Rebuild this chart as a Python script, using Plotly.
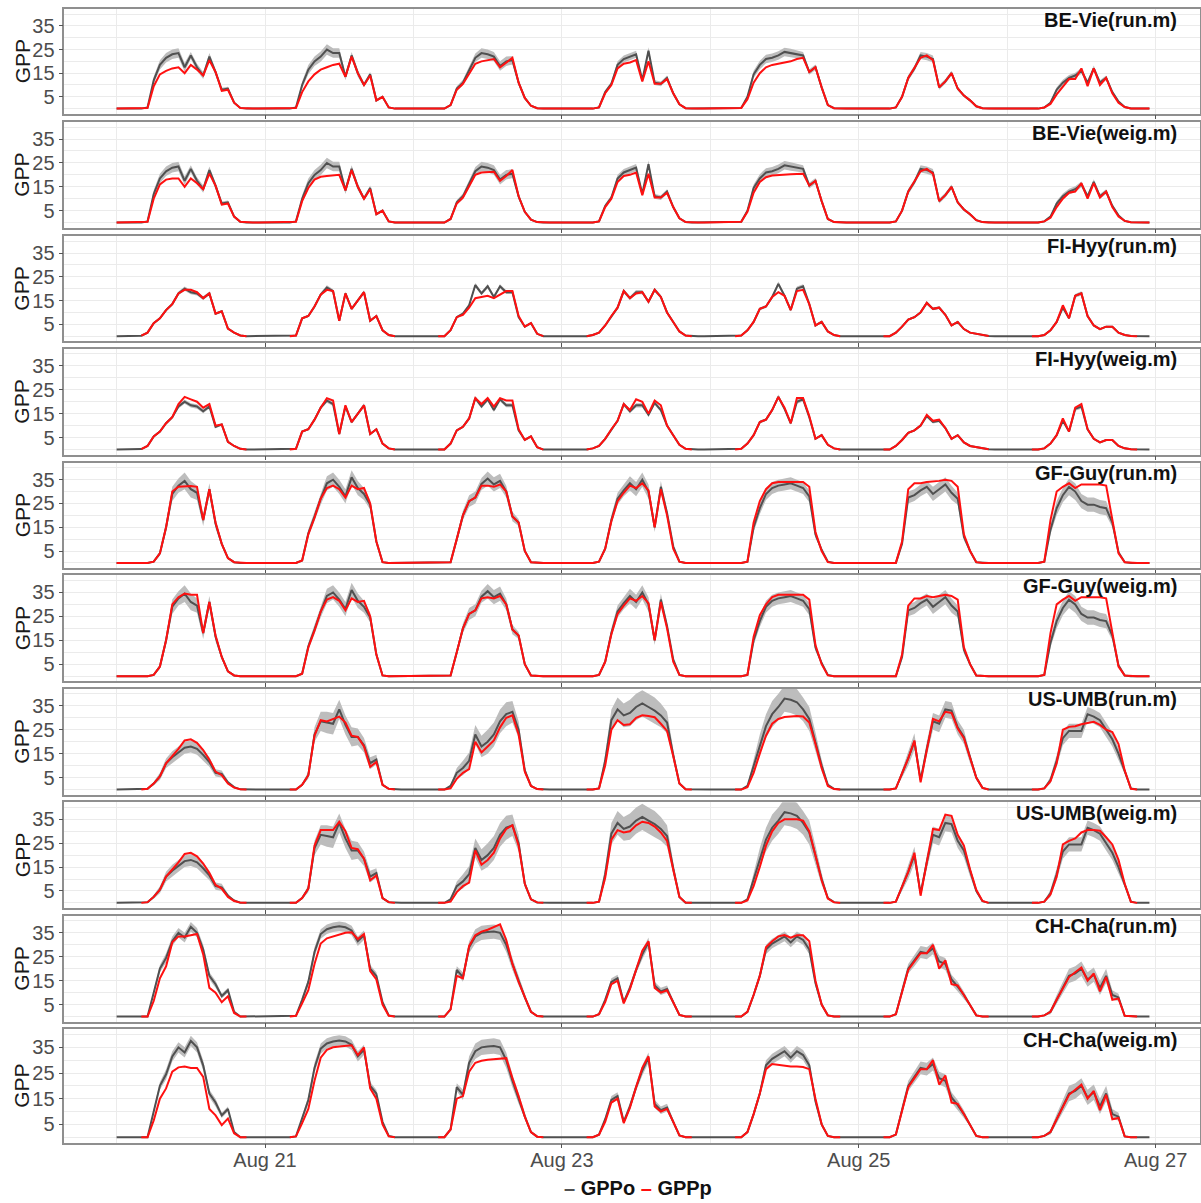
import plotly.graph_objects as go
from datetime import datetime, timedelta

# ---------------- data ----------------
DAYS = ["2013-08-20", "2013-08-21", "2013-08-22", "2013-08-23",
        "2013-08-24", "2013-08-25", "2013-08-26"]
FIRST_HOUR = 4          # daytime arrays hold hours 04:00 ... 21:00 (18 values)
SITES = ["BE-Vie", "FI-Hyy", "GF-Guy", "US-UMB", "CH-Cha"]
METHODS = ["run.m", "weig.m"]
SERIES_NAMES = ["GPPo", "GPPp"]

# ---- BE-Vie ----
be_vie_obs = [
    [0, 0.5, 12, 18.5, 21.5, 23, 23.5, 17.5, 22.5, 17.5, 14, 22, 15.5, 8, 8.5, 2.5, 0.3, 0],
    [0, 0.5, 10, 16.5, 20, 22, 25, 23.5, 23.5, 13.5, 22.5, 15, 10, 14.5, 3.5, 5, 0.5, 0],
    [0, 0, 1.5, 8.5, 11, 16, 21.5, 23.5, 23, 22, 18, 20, 20.5, 11, 4.5, 1.2, 0.2, 0],
    [0, 0, 0.5, 7, 10.5, 18.5, 21, 22, 23, 12, 24.5, 11, 10.5, 13, 6.5, 1.8, 0.2, 0],
    [0, 0.3, 5, 14.5, 18.5, 21, 21.5, 22.5, 24, 23.5, 23, 22.5, 15.5, 17.5, 9, 1.5, 0.2, 0],
    [0, 0, 0.5, 5, 13, 17, 22.5, 22, 21, 9, 11.5, 15, 8.5, 5.5, 3.5, 1, 0.2, 0],
    [0, 0, 0.5, 2.5, 8, 11, 13, 14, 16, 11, 17, 11, 13, 7, 3, 0.7, 0.1, 0],
]
be_vie_sd = [
    [0, 0.2, 1.5, 2, 2, 2, 2, 1.8, 1.5, 1.5, 1.5, 1.5, 1.2, 0.8, 0.8, 0.4, 0.1, 0],
    [0, 0.2, 1.5, 2, 2, 2.2, 2.2, 2, 2, 1.5, 1.5, 1.5, 1, 1, 0.5, 0.5, 0.1, 0],
    [0, 0, 0.3, 1, 1.2, 1.5, 1.8, 2, 2, 2, 2, 2, 1.8, 1.2, 0.6, 0.3, 0.1, 0],
    [0, 0, 0.2, 0.8, 1, 1.5, 1.5, 1.5, 1.5, 1, 1.5, 1, 1, 1, 0.8, 0.3, 0.1, 0],
    [0, 0.1, 0.8, 1.5, 1.8, 1.8, 1.8, 1.8, 1.8, 1.8, 1.8, 1.5, 1.2, 1.2, 1, 0.3, 0.1, 0],
    [0, 0, 0.2, 0.8, 1.2, 1.2, 1.5, 1.5, 1.5, 1, 1, 1, 0.8, 0.6, 0.5, 0.2, 0.1, 0],
    [0, 0, 0.2, 0.5, 1, 1.2, 1.2, 1.2, 1.2, 1, 1.2, 1, 1, 0.8, 0.5, 0.2, 0.1, 0],
]
be_vie_run = [
    [0, 0.3, 9.5, 14.5, 16, 17, 17.5, 15, 18.5, 16.5, 14, 20.5, 15.5, 7.5, 8, 2.5, 0.3, 0],
    [0, 0.3, 7, 11.5, 14.5, 16.5, 17.5, 18.5, 19, 13.5, 22, 15, 10, 14, 3.5, 5, 0.5, 0],
    [0, 0, 1.5, 8, 10.5, 15, 19, 20, 20.5, 21, 17.5, 19.5, 21.5, 11, 4.5, 1.2, 0.2, 0],
    [0, 0, 0.5, 6.5, 10, 17, 19, 19.5, 20.5, 11.5, 20, 10.5, 10.5, 12.5, 6.5, 1.8, 0.2, 0],
    [0, 0.3, 4, 11, 15, 17.5, 18.5, 19, 19.5, 20, 21, 21.5, 15.5, 17.5, 9, 1.5, 0.2, 0],
    [0, 0, 0.5, 5, 13, 17, 21.5, 22.5, 20.5, 9, 11.5, 15, 8.5, 5.5, 3.5, 1, 0.2, 0],
    [0, 0, 0.5, 2, 6, 9.5, 12.5, 12.5, 17, 9.5, 17, 10, 13, 6.5, 2.5, 0.7, 0.1, 0],
]
be_vie_weig = [
    [0, 0.3, 10, 16, 18, 18.5, 18.5, 15, 18.5, 16.5, 14, 20.5, 15.5, 7.5, 8, 2.5, 0.3, 0],
    [0, 0.3, 9, 14.5, 18, 19.2, 19.5, 19.8, 20, 13.5, 22, 15, 10, 14, 3.5, 5, 0.5, 0],
    [0, 0, 1.5, 8, 10.5, 15, 20, 21, 21.3, 21.3, 17.5, 19.5, 22, 11, 4.5, 1.2, 0.2, 0],
    [0, 0, 0.5, 6.5, 10, 17, 19.5, 20, 21, 11.5, 20.5, 10.5, 10.5, 12.5, 6.5, 1.8, 0.2, 0],
    [0, 0.3, 4.5, 12.5, 17, 19, 19.7, 20, 20.2, 20.3, 20.4, 20.5, 15.5, 17.5, 9, 1.5, 0.2, 0],
    [0, 0, 0.5, 5, 13, 17, 21.5, 22.5, 20.5, 9, 11.5, 15, 8.5, 5.5, 3.5, 1, 0.2, 0],
    [0, 0, 0.5, 2, 6.5, 10, 12.5, 13, 16.5, 10, 16.5, 10.5, 13, 6.5, 2.5, 0.7, 0.1, 0],
]

# ---- FI-Hyy ----
fi_hyy_obs = [
    [0.2, 1.5, 5.5, 7.5, 11, 13.5, 18, 20, 18.5, 18, 16, 18, 9.5, 10.5, 3.2, 1.5, 0.3, 0],
    [0, 0.3, 7.5, 8.5, 12.5, 17.5, 20.5, 19, 6.5, 18, 11.5, 15, 18.5, 6.5, 8.5, 2.5, 0.5, 0],
    [0, 0, 2.5, 8, 9.5, 13, 21.5, 18, 21, 16.5, 21, 18.5, 18.5, 8, 4, 5.5, 1, 0],
    [0, 0.5, 1.5, 4.5, 8.5, 12, 19, 16, 18.5, 18.5, 14.5, 19.5, 16.5, 10, 6, 2, 0.3, 0],
    [0, 0.3, 2.5, 6, 11.5, 12.5, 16.5, 22, 17, 11, 20, 21, 13.5, 4.5, 6, 2, 0.5, 0],
    [0, 0, 1.5, 4, 7, 8, 10, 14, 11.5, 12, 9, 4.5, 6, 3, 1.5, 1, 0.4, 0.1],
    [0, 0, 0.5, 2.5, 6, 12, 7.5, 17, 18, 8.5, 4.5, 3, 4, 4, 1.5, 0.5, 0.1, 0],
]
fi_hyy_sd = [
    [0, 0.2, 0.4, 0.5, 0.6, 0.7, 0.8, 0.9, 0.9, 0.9, 0.8, 0.8, 0.6, 0.5, 0.3, 0.2, 0.1, 0],
    [0, 0.1, 0.4, 0.5, 0.6, 0.8, 0.9, 0.8, 0.5, 0.8, 0.6, 0.7, 0.8, 0.4, 0.4, 0.2, 0.1, 0],
    [0, 0, 0.2, 0.5, 0.6, 0.7, 0.9, 0.8, 0.9, 0.8, 0.9, 0.8, 0.8, 0.5, 0.3, 0.3, 0.1, 0],
    [0, 0.1, 0.2, 0.3, 0.5, 0.6, 0.9, 0.8, 0.9, 0.9, 0.7, 0.9, 0.8, 0.6, 0.4, 0.2, 0.1, 0],
    [0, 0.1, 0.2, 0.4, 0.6, 0.6, 0.8, 1, 0.8, 0.6, 0.9, 0.9, 0.7, 0.3, 0.4, 0.2, 0.1, 0],
    [0, 0, 0.1, 0.3, 0.4, 0.5, 0.6, 0.7, 0.6, 0.6, 0.5, 0.3, 0.4, 0.2, 0.1, 0.1, 0, 0],
    [0, 0, 0.1, 0.2, 0.4, 0.6, 0.4, 0.8, 0.9, 0.5, 0.3, 0.2, 0.3, 0.3, 0.1, 0, 0, 0],
]
fi_hyy_run = [
    [0.2, 1.5, 5.5, 7.5, 11, 13.5, 18, 19.5, 19.5, 18.5, 16, 18, 9.5, 10.5, 3.2, 1.5, 0.3, 0],
    [0, 0.3, 7.5, 8.5, 12.5, 17.5, 19.5, 19, 6.5, 18, 11.5, 15, 18.5, 6.5, 8.5, 2.5, 0.5, 0],
    [0, 0, 2.5, 8, 9, 12, 16, 16.5, 17, 16, 17.5, 19, 19, 8.5, 4, 5.5, 1, 0],
    [0, 0.5, 1.5, 4.5, 8.5, 12, 19, 16, 18, 18.5, 14.5, 19.5, 16.5, 10, 6, 2, 0.3, 0],
    [0, 0.3, 2.5, 6, 11.5, 12.5, 16.5, 18.5, 17, 11, 19, 19.5, 13.5, 4.5, 6, 2, 0.5, 0],
    [0, 0, 1.5, 4, 7, 8, 10, 14, 11.5, 12, 9, 4.5, 6, 3, 1.5, 1, 0.4, 0.1],
    [0, 0, 0.5, 2.5, 6, 13, 7.5, 17, 18, 8.5, 4.5, 3, 4, 4, 1.5, 0.5, 0.1, 0],
]
fi_hyy_weig = [
    [0.2, 1.5, 5.5, 7.5, 11, 13.5, 19, 22, 21, 20, 17.5, 19, 10, 10.5, 3.2, 1.5, 0.3, 0],
    [0, 0.3, 7.5, 8.5, 12.5, 17.5, 21.5, 20.5, 6.5, 18.5, 11.5, 15, 18.5, 6.5, 8.5, 2.5, 0.5, 0],
    [0, 0, 2.5, 8, 9.5, 13, 21.5, 19, 21.5, 18, 21.5, 20.5, 20.5, 8.5, 4, 5.5, 1, 0],
    [0, 0.5, 1.5, 4.5, 8.5, 12, 19, 16.5, 21, 20, 15, 20.5, 18.5, 10, 6, 2, 0.3, 0],
    [0, 0.3, 2.5, 6, 11.5, 12.5, 16.5, 22, 17.5, 11, 21.5, 21.5, 14, 4.5, 6, 2, 0.5, 0],
    [0, 0, 1.5, 4, 7, 8, 10, 14.5, 12, 12.5, 9, 4.5, 6, 3, 1.5, 1, 0.4, 0.1],
    [0, 0, 0.5, 2.5, 6, 13, 7.5, 17.5, 19, 8.5, 4.5, 3, 4, 4, 1.5, 0.5, 0.1, 0],
]

# ---- GF-Guy ----
gf_guy_obs = [
    [0, 0, 0.5, 4, 15, 29, 32.5, 34.5, 31, 29.5, 18, 31, 16.5, 8, 2, 0.3, 0, 0],
    [0, 0, 1, 12.5, 19.5, 27, 33.5, 35, 32, 28, 36, 31.5, 29, 24.5, 9, 0.3, 0, 0],
    [0, 0, 0.3, 10, 20, 26, 27.5, 33.2, 35.5, 33, 34.5, 30, 19.5, 17, 5, 0.3, 0, 0],
    [0, 0, 0.5, 6, 18, 27, 30.5, 33.5, 31, 35, 30, 15, 32, 21, 7, 0.5, 0, 0],
    [0, 0, 0.5, 15, 23, 29, 31.5, 32.5, 33, 33.5, 32.5, 31.5, 28, 12, 5.5, 0.5, 0, 0],
    [0, 0, 0, 8, 27.5, 28.5, 30.5, 32, 29, 31, 33, 29.5, 27, 11, 5, 0.3, 0, 0],
    [0, 0, 0.5, 14, 23, 28.5, 32, 30, 26, 24.5, 24.5, 23.5, 23, 17, 4.5, 0.3, 0, 0],
]
gf_guy_sd = [
    [0, 0, 0.2, 1, 2, 3, 3, 3.5, 3.5, 3, 2.5, 2.5, 2, 1, 0.5, 0.1, 0, 0],
    [0, 0, 0.3, 1.5, 2, 2.5, 3, 3, 3, 3, 3, 3, 2.5, 2, 1, 0.1, 0, 0],
    [0, 0, 0.1, 1.5, 2, 2.5, 2.5, 2.5, 3, 3, 3, 2.5, 2, 1.5, 0.5, 0.1, 0, 0],
    [0, 0, 0.2, 1, 2, 2.5, 2.5, 3, 3, 3, 3, 2, 2.5, 1.5, 0.5, 0.1, 0, 0],
    [0, 0, 0.2, 2, 2.5, 2.5, 2.5, 2.5, 2.5, 2.5, 2.5, 2.5, 2.5, 1.5, 0.5, 0.1, 0, 0],
    [0, 0, 0, 1, 2.5, 2.5, 2.5, 2.5, 3, 3, 3, 3, 2.5, 1.5, 0.5, 0.1, 0, 0],
    [0, 0, 0.2, 2, 3, 3, 3.5, 3.5, 3, 3, 3, 3, 3, 2, 0.5, 0.1, 0, 0],
]
gf_guy_run = [
    [0, 0, 0.5, 4, 15, 30, 32, 32.3, 32.3, 32, 18, 31, 17, 8, 2, 0.3, 0, 0],
    [0, 0, 1, 12, 19, 27, 31.5, 32.5, 31, 27.5, 32.5, 31, 31.5, 25, 9, 0.3, 0, 0],
    [0, 0, 0.3, 10, 20, 26, 27.5, 32.5, 32.5, 32, 33, 30, 19.5, 17, 5, 0.3, 0, 0],
    [0, 0, 0.5, 6, 17.5, 26, 29.5, 32.5, 31.5, 33.5, 30.5, 15, 31, 20, 6, 0.5, 0, 0],
    [0, 0, 0.5, 17, 26, 31, 33.5, 34, 34, 34, 34, 34, 32, 13, 5, 0.3, 0, 0],
    [0, 0, 0, 9, 31, 33.5, 33.5, 34, 34.2, 34.5, 35, 34.5, 32, 12, 5, 0.3, 0, 0],
    [0, 0, 0.5, 18, 30, 32, 33.5, 31.5, 33, 33, 33, 33, 32.5, 18, 4, 0.3, 0, 0],
]
gf_guy_weig = [
    [0, 0, 0.5, 4, 15, 30, 33, 34.5, 34, 34, 18, 31, 17, 8, 2, 0.3, 0, 0],
    [0, 0, 1, 12, 19, 27, 32, 33, 31.5, 27.5, 32.5, 31, 31.5, 25, 9, 0.3, 0, 0],
    [0, 0, 0.3, 10, 20, 26, 27.5, 32.5, 33, 32.5, 33.5, 30, 19.5, 17, 5, 0.3, 0, 0],
    [0, 0, 0.5, 6, 17.5, 26, 29.5, 32.5, 31.5, 33.5, 30.5, 15, 31, 20, 6, 0.5, 0, 0],
    [0, 0, 0.5, 16.5, 25.5, 30, 33, 34, 34, 34, 34, 34, 32, 13, 5, 0.3, 0, 0],
    [0, 0, 0, 9, 29.5, 32.5, 32.5, 33.5, 33, 33.5, 34, 33.5, 32, 12, 5, 0.3, 0, 0],
    [0, 0, 0.5, 18, 30, 32, 33.5, 31.5, 33, 33, 33, 33, 32.5, 18, 4, 0.3, 0, 0],
]

# ---- US-UMB ----
us_umb_obs = [
    [0, 0.3, 2.5, 5.5, 11, 13.5, 15.5, 17.5, 18, 17, 14.5, 11.5, 7, 6.5, 3, 1, 0.1, 0],
    [0, 0, 2, 6, 23, 28.5, 28, 27.5, 33.5, 27, 22, 22, 18.5, 11, 12.5, 2, 0.3, 0],
    [0, 0, 1.5, 7, 9, 12, 23, 18, 20, 23, 28.5, 31.5, 32.5, 25, 8, 1.5, 0.2, 0],
    [0, 0, 0.5, 12, 29, 33.5, 31, 32, 34.5, 36, 34.5, 33, 31, 28, 14.5, 2.5, 0.1, 0],
    [0, 0, 1.5, 10, 19, 26.5, 31.5, 34.5, 38, 37.5, 36.5, 33.5, 29.5, 20, 10, 2, 0.3, 0],
    [0, 0, 0.5, 6.5, 13, 20, 4, 17, 28.5, 27.5, 33.5, 33, 26, 22, 13, 5, 0.7, 0],
    [0, 0, 0.5, 4, 12, 21.5, 24.5, 24.5, 24.5, 31.5, 30.5, 29, 25, 21, 15, 8, 0.5, 0],
]
us_umb_sd = [
    [0, 0.1, 0.8, 1.5, 2, 2.5, 2.5, 2.5, 2.5, 2.5, 2.5, 2, 1.5, 1.5, 0.8, 0.3, 0, 0],
    [0, 0, 0.5, 1.5, 3, 4, 4.5, 4.5, 4, 4, 4, 3.5, 3, 2.5, 2, 0.5, 0.1, 0],
    [0, 0, 0.5, 2, 3, 3.5, 4, 4.5, 5, 5, 5, 5, 4.5, 3.5, 1.5, 0.3, 0, 0],
    [0, 0, 0.2, 3, 4.5, 5, 5, 5.5, 5.5, 5.5, 5.5, 5.5, 5, 4.5, 2.5, 0.5, 0, 0],
    [0, 0, 0.5, 3, 4, 5, 5.5, 5.5, 5.5, 5.5, 5.5, 5, 5, 4, 2.5, 0.5, 0.1, 0],
    [0, 0, 0.2, 1.5, 3, 3.5, 1, 3, 3.5, 3.5, 3.5, 3.5, 3, 3, 2, 1, 0.2, 0],
    [0, 0, 0.2, 1.5, 2.5, 3, 3, 3, 3, 3, 3, 3, 3, 3, 2.5, 1.5, 0.2, 0],
]
us_umb_run = [
    [0, 0.3, 2.5, 5.5, 11, 14, 17, 20.5, 21, 19.5, 16.5, 12.5, 7.5, 6, 2.5, 0.8, 0.1, 0],
    [0, 0, 2, 6, 22.5, 29, 28.5, 29.5, 30.5, 28, 22.5, 22, 18, 9.5, 11.5, 2, 0.3, 0],
    [0, 0, 0.5, 4.5, 7, 8.5, 20, 15.5, 18, 20.5, 26, 30, 31, 23, 7.5, 1.5, 0.2, 0],
    [0, 0, 0.5, 10, 25, 29, 27, 27.3, 30, 31, 30.7, 30.2, 27.5, 24.5, 14, 2.5, 0.1, 0],
    [0, 0, 1, 7, 15, 22.5, 27.5, 29.5, 30.3, 30.5, 30.7, 30.5, 28, 19, 9, 1.5, 0.2, 0],
    [0, 0, 0.5, 6.5, 13, 20.5, 3, 16.5, 29.5, 28.5, 32.5, 32, 25.5, 21.5, 13, 5, 0.7, 0],
    [0, 0, 0.5, 3.5, 11, 25, 26.2, 26.5, 27.3, 27.9, 28.3, 27, 25, 24, 19, 8, 0.3, 0],
]
us_umb_weig = [
    [0, 0.3, 2.5, 5.5, 11, 14, 17, 20.5, 21, 19.5, 16.5, 12.5, 7.5, 6, 2.5, 0.8, 0.1, 0],
    [0, 0, 2, 6, 24, 30.5, 30.5, 30.5, 34, 30, 23, 22.5, 18.5, 9.5, 11.5, 2, 0.3, 0],
    [0, 0, 0.5, 4.5, 7, 8.5, 22, 16, 18, 21, 27, 31, 32.5, 24, 8, 1.5, 0.2, 0],
    [0, 0, 0.5, 10.5, 26.5, 30.5, 29.5, 30, 32.5, 34, 33.5, 32, 29.5, 26, 14, 2.5, 0.1, 0],
    [0, 0, 1, 7, 15, 24, 30, 33.5, 35, 35, 35, 34.5, 30, 20, 9.5, 1.8, 0.2, 0],
    [0, 0, 0.5, 6.5, 13, 21, 3, 17, 31, 30.5, 37, 36.5, 28.5, 24, 14, 5.5, 0.8, 0],
    [0, 0, 0.5, 3.5, 11, 24.5, 26, 27, 29.5, 30.5, 30.5, 30.2, 27.5, 24.5, 18, 8, 0.4, 0],
]

# ---- CH-Cha ----
ch_cha_obs = [
    [0, 0, 10, 20, 24.5, 31.5, 35, 33, 37.5, 35, 28, 17, 13.5, 8.5, 11, 2, 0, 0],
    [0, 0.3, 7, 14.5, 27, 34.5, 36.5, 37.3, 37.7, 37.3, 36, 31.5, 34, 20, 17, 6, 0.5, 0],
    [0, 0, 3, 19.5, 16.5, 29, 33.5, 35, 35.3, 35.5, 35, 30, 22, 15, 8, 2, 0.2, 0],
    [0, 0, 1, 7, 14.5, 16, 6, 12, 19.5, 26, 31, 13, 10.5, 11.5, 6, 0.7, 0, 0],
    [0, 0, 2, 9, 17, 28, 30.5, 32, 33.5, 31, 33.5, 32, 28, 14, 5, 0.5, 0, 0],
    [0, 0, 1, 11, 20, 23.5, 27, 26.5, 28.5, 23, 22, 15.5, 12.5, 9, 5, 0.5, 0, 0],
    [0, 0, 0.5, 2, 7, 12, 17, 18, 20, 15.5, 17.5, 12, 17, 9, 8, 0.3, 0, 0],
]
ch_cha_sd = [
    [0, 0, 1, 1.5, 2, 2, 2, 2, 2, 2, 2, 1.5, 1.5, 1, 1, 0.3, 0, 0],
    [0, 0.1, 1, 1.5, 2, 2, 2, 2, 2, 2, 2, 2, 2, 1.5, 1.5, 0.5, 0.1, 0],
    [0, 0, 0.5, 1.5, 2, 2.5, 3, 3, 3, 3, 3, 3, 2.5, 2, 1, 0.3, 0, 0],
    [0, 0, 0.3, 1, 1.5, 1.5, 1, 1.5, 1.5, 2, 2, 1.5, 1.5, 1.5, 1, 0.2, 0, 0],
    [0, 0, 0.5, 1, 1.5, 2, 2, 2, 2, 2, 2, 2, 2, 1.5, 0.8, 0.2, 0, 0],
    [0, 0, 0.3, 1.5, 2, 2.5, 2.5, 2.5, 2.5, 2.5, 2.5, 2, 2, 1.5, 0.8, 0.2, 0, 0],
    [0, 0, 0.2, 1, 2, 2.5, 3, 3, 3, 3, 3, 3, 3, 2, 1.5, 0.2, 0, 0],
]
ch_cha_run = [
    [0, 0, 6.5, 16, 21, 31, 33.5, 33.5, 34, 34.5, 26, 12, 10, 6, 8.5, 1.5, 0, 0],
    [0, 0.3, 5.5, 11, 22, 30.5, 32.7, 33.5, 34.5, 35, 35.2, 32.4, 34.5, 19, 15.5, 5, 0.3, 0],
    [0, 0, 3, 17, 16, 29.5, 34, 35.5, 36.3, 37.3, 38.5, 32, 22, 14.5, 8, 2, 0.2, 0],
    [0, 0, 1, 6, 13.5, 15, 5.5, 11.5, 19.5, 27.5, 31.5, 12, 10, 11, 6, 0.7, 0, 0],
    [0, 0, 2, 9, 17, 29, 31.5, 33.5, 34.1, 33, 34, 34, 31.5, 15, 5, 0.5, 0, 0],
    [0, 0, 1, 10.5, 19.5, 23, 26.5, 26.5, 30, 20, 23.5, 13.5, 13, 9, 5, 0.5, 0, 0],
    [0, 0, 0.5, 2, 7, 11.5, 16.5, 18.5, 20.5, 15, 18, 10.5, 16.5, 7, 7.5, 0.3, 0, 0],
]
ch_cha_weig = [
    [0, 0, 6.5, 15, 19, 25.5, 27.2, 27.5, 27, 27, 23.5, 11, 8.5, 4.7, 7.3, 1.5, 0, 0],
    [0, 0.3, 5.5, 11, 22, 31, 34, 35, 35.3, 35.5, 35.8, 32, 35, 19, 15, 5, 0.3, 0],
    [0, 0, 3, 15, 16, 25.5, 29, 29.8, 30.2, 30.4, 30.5, 30.8, 23, 16, 8, 2, 0.2, 0],
    [0, 0, 1, 6, 13.5, 15, 5.5, 11.5, 19.5, 27, 31.5, 12, 10, 11, 6, 0.7, 0, 0],
    [0, 0, 2, 9, 17, 26.5, 28.5, 28.2, 28, 27.5, 27.5, 27.3, 26.5, 15, 5, 0.5, 0, 0],
    [0, 0, 1, 10.5, 19.5, 23, 26.5, 26.5, 30, 20.5, 24, 13.5, 13, 9, 5, 0.5, 0, 0],
    [0, 0, 0.5, 2, 7, 11.5, 16.5, 18.5, 20.5, 15, 18, 10.5, 16.5, 7, 7.5, 0.3, 0, 0],
]

# night-time value of the prediction series (None = not plotted at night)
PRED_NIGHT = {"BE-Vie": 0, "FI-Hyy": None, "GF-Guy": 0, "US-UMB": None, "CH-Cha": None}

OBS = {"BE-Vie": be_vie_obs, "FI-Hyy": fi_hyy_obs, "GF-Guy": gf_guy_obs,
       "US-UMB": us_umb_obs, "CH-Cha": ch_cha_obs}
SD = {"BE-Vie": be_vie_sd, "FI-Hyy": fi_hyy_sd, "GF-Guy": gf_guy_sd,
      "US-UMB": us_umb_sd, "CH-Cha": ch_cha_sd}
PRED = {("BE-Vie", "run.m"): be_vie_run, ("BE-Vie", "weig.m"): be_vie_weig,
        ("FI-Hyy", "run.m"): fi_hyy_run, ("FI-Hyy", "weig.m"): fi_hyy_weig,
        ("GF-Guy", "run.m"): gf_guy_run, ("GF-Guy", "weig.m"): gf_guy_weig,
        ("US-UMB", "run.m"): us_umb_run, ("US-UMB", "weig.m"): us_umb_weig,
        ("CH-Cha", "run.m"): ch_cha_run, ("CH-Cha", "weig.m"): ch_cha_weig}


def expand(day_lists, night_value):
    """Hourly series over the 7 days: daytime values from the arrays, night value elsewhere."""
    xs, ys = [], []
    for d, day in enumerate(DAYS):
        base = datetime.fromisoformat(day)
        for h in range(24):
            xs.append(base + timedelta(hours=h))
            k = h - FIRST_HOUR
            if 0 <= k < len(day_lists[d]):
                ys.append(day_lists[d][k])
            else:
                ys.append(night_value)
    return xs, ys


# ---------------- layout geometry (pixels of the 1201 x 1203 page) ----------------
W, H = 1201, 1203
PANEL_TOP = [9, 122, 236, 348.7, 462.7, 575.3, 688.7, 802.3, 915.7, 1029]
PANEL_BOT = [113.7, 227.7, 341.3, 454.7, 568, 681.3, 794.7, 908, 1021.7, 1142.7]
X_LEFT, X_RIGHT = 64.3, 1200

FONT = "Liberation Sans, Arial, Helvetica, sans-serif"
GRID = "#ebebeb"
BORDER = "#8f8f8f"
OBS_COLOR = "#505050"
PRED_COLOR = "#ff1010"
RIBBON = "#bdbdbd"

x_start = datetime.fromisoformat(DAYS[0])
x_range = [x_start - timedelta(days=0.3524), x_start + timedelta(days=7.299)]

fig = go.Figure()
annotations = []
panel = 0
for site in SITES:
    xs, obs = expand(OBS[site], 0)
    _, sd = expand(SD[site], 0)
    lower = [o - s for o, s in zip(obs, sd)]
    upper = [o + s for o, s in zip(obs, sd)]
    for method in METHODS:
        panel += 1
        ax = "" if panel == 1 else str(panel)
        xa, ya = "x" + ax, "y" + ax
        _, pred = expand(PRED[(site, method)], PRED_NIGHT[site])

        fig.add_trace(go.Scatter(x=xs + xs[::-1], y=upper + lower[::-1], fill="toself",
                                 fillcolor=RIBBON, line=dict(width=0), mode="lines",
                                 hoverinfo="skip", showlegend=False, xaxis=xa, yaxis=ya))
        fig.add_trace(go.Scatter(x=xs, y=obs, mode="lines", name=SERIES_NAMES[0],
                                 line=dict(color=OBS_COLOR, width=2),
                                 showlegend=False, xaxis=xa, yaxis=ya))
        fig.add_trace(go.Scatter(x=xs, y=pred, mode="lines", name=SERIES_NAMES[1],
                                 line=dict(color=PRED_COLOR, width=2),
                                 connectgaps=False, showlegend=False,
                                 xaxis=xa, yaxis=ya))

        top, bot = PANEL_TOP[panel - 1], PANEL_BOT[panel - 1]
        dom_y = [1 - bot / H, 1 - top / H]
        bottom_panel = panel == len(SITES) * len(METHODS)
        fig.update_layout(**{
            ("xaxis" + ax): dict(
                domain=[X_LEFT / W, X_RIGHT / W], anchor=ya, type="date",
                range=x_range, tick0="2013-08-21", dtick=2 * 86400000,
                tickformat="%b %d", showticklabels=bottom_panel,
                ticks="outside", ticklen=4, tickcolor="#555555", tickwidth=1,
                ticklabelstandoff=-5,
                tickfont=dict(family=FONT, size=20, color="#4d4d4d"),
                showgrid=True, gridcolor=GRID, gridwidth=1,
                minor=dict(dtick=86400000, tick0="2013-08-20", showgrid=True,
                           gridcolor=GRID, gridwidth=0.8),
                showline=True, mirror=True, linecolor=BORDER, linewidth=1.5,
                zeroline=False, fixedrange=True),
            ("yaxis" + ax): dict(
                domain=dom_y, anchor=xa, range=[-2.15, 42.15],
                tick0=5, dtick=10, ticks="outside", ticklen=4, tickcolor="#555555",
                tickfont=dict(family=FONT, size=20, color="#4d4d4d"),
                showgrid=True, gridcolor=GRID, gridwidth=1,
                minor=dict(tick0=0, dtick=10, showgrid=True, gridcolor=GRID, gridwidth=0.8),
                showline=True, mirror=True, linecolor=BORDER, linewidth=1.5,
                zeroline=False, fixedrange=True),
        })
        annotations.append(dict(
            text="<b>%s(%s)</b>" % (site, method), xref="paper", yref="paper",
            x=1179 / W, y=1 - (top + 10.5) / H, xanchor="right", yanchor="middle",
            showarrow=False, font=dict(family=FONT, size=20, color="#111111")))
        annotations.append(dict(
            text="GPP", xref="paper", yref="paper", textangle=-90,
            x=22 / W, y=1 - (top + bot) / 2 / H, xanchor="center", yanchor="middle",
            showarrow=False, font=dict(family=FONT, size=21, color="#1a1a1a")))

# legend drawn as text: short coloured dash keys followed by the series names
legend_text = ("<b><span style='color:%s'>–</span> %s "
               "<span style='color:%s'>–</span> %s</b>"
               % (OBS_COLOR, SERIES_NAMES[0], PRED_COLOR, SERIES_NAMES[1]))
annotations.append(dict(
    text=legend_text, xref="paper", yref="paper", x=638 / W, y=3 / H,
    xanchor="center", yanchor="bottom", showarrow=False, borderpad=0,
    font=dict(family=FONT, size=20, color="#111111")))

fig.update_layout(
    width=W, height=H, margin=dict(l=0, r=0, t=0, b=0),
    paper_bgcolor="white", plot_bgcolor="white",
    annotations=annotations,
    showlegend=False,
)

fig.write_html("out.html")
